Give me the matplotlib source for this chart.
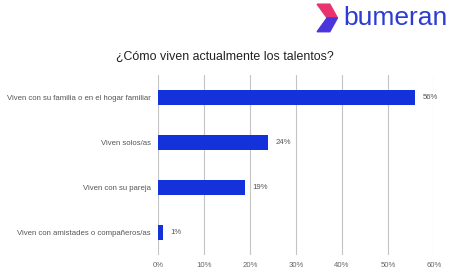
import matplotlib
matplotlib.use('Agg')
import matplotlib.pyplot as plt
from matplotlib.patches import Polygon

categorias = ["Viven con su familia o en el hogar familiar", "Viven solos/as",
              "Viven con su pareja", "Viven con amistades o compañeros/as"]
valores = [56, 24, 19, 1]
ticks = [0, 10, 20, 30, 40, 50, 60]
titulo = "¿Cómo viven actualmente los talentos?"

plt.rcParams['font.family'] = ['Liberation Sans', 'DejaVu Sans']

fig = plt.figure(figsize=(4.53, 2.76), dpi=100)
ax = fig.add_axes([0.3488, 0.076, 0.609, 0.652])

y = list(range(len(categorias)))
ax.barh(y, valores, height=0.34, color='#1432dc', zorder=3)
for yi, v in zip(y, valores):
    ax.text(v + 1.6, yi, f"{v}%", va='center', ha='left', fontsize=5.6, color='#555555')

ax.set_xlim(0, 60)
ax.set_ylim(3.5, -0.5)
ax.set_xticks(ticks)
ax.set_xticklabels([f"{t}%" for t in ticks], fontsize=5.6, color='#666666')
ax.set_yticks(y)
ax.set_yticklabels(categorias, fontsize=5.6, color='#555555')
ax.tick_params(length=0, pad=5)
ax.grid(axis='x', color='#c4c4c4', linewidth=0.8, zorder=0)
for s in ax.spines.values():
    s.set_visible(False)

fig.text(0.497, 0.793, titulo, ha='center', va='center', fontsize=8.9, color='#222222')

# logo
fig.text(0.757, 0.935, "bumeran", ha='left', va='center', fontsize=19, color='#2b3bd4')
fig.patches.append(Polygon([[0.700, 0.985], [0.728, 0.985], [0.745, 0.935], [0.722, 0.935]],
                           closed=True, transform=fig.transFigure, color='#e8336e', figure=fig))
fig.patches.append(Polygon([[0.722, 0.935], [0.745, 0.935], [0.728, 0.885], [0.700, 0.885]],
                           closed=True, transform=fig.transFigure, color='#4a35dc', figure=fig))

fig.savefig('out.png', dpi=100, facecolor='white')
